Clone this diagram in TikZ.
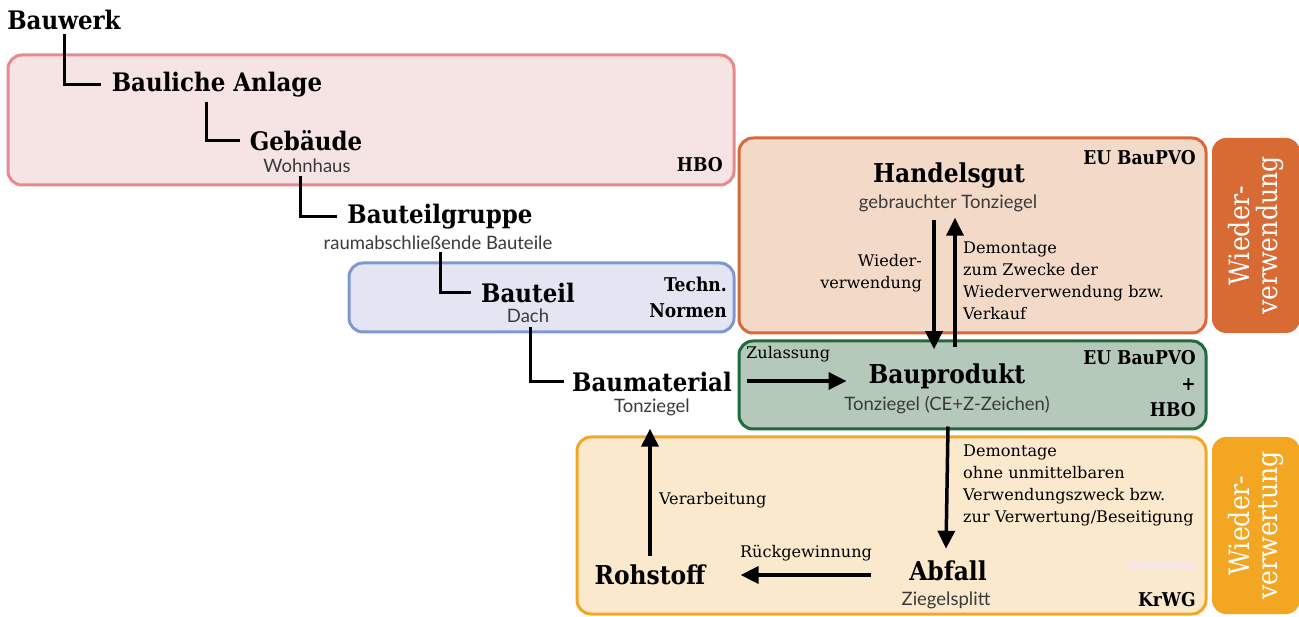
\documentclass[tikz,border=0pt]{standalone}
\usepackage{fontspec}
\setmainfont{DejaVu Serif Condensed}
\newfontfamily\subfont{Lato}
\newfontfamily\notefont[FakeStretch=1.12]{DejaVu Serif Condensed}
\usetikzlibrary{arrows.meta}

\definecolor{hboFill}{HTML}{F6E3E4}
\definecolor{hboLine}{HTML}{E8898B}
\definecolor{normFill}{HTML}{E3E5F3}
\definecolor{normLine}{HTML}{7F98D0}
\definecolor{tradeFill}{HTML}{F3DAC8}
\definecolor{tradeLine}{HTML}{D8693A}
\definecolor{prodFill}{HTML}{B5C9BA}
\definecolor{prodLine}{HTML}{1F6B3C}
\definecolor{wasteFill}{HTML}{FAE9CC}
\definecolor{wasteLine}{HTML}{F2A724}
\definecolor{reuseTab}{HTML}{D86A34}
\definecolor{recycleTab}{HTML}{F2A622}
\definecolor{paleBar}{HTML}{F5E5E3}
\definecolor{subGray}{HTML}{3A3A3A}

\tikzset{
  title/.style={font=\bfseries\fontsize{25.5}{28}\selectfont, inner sep=0pt},
  bigtitle/.style={font=\bfseries\fontsize{26}{28}\selectfont, inner sep=0pt},
  subtext/.style={font=\subfont\fontsize{18.5}{20}\selectfont, text=subGray, inner sep=0pt},
  law/.style={font=\bfseries\fontsize{19}{26}\selectfont, inner sep=0pt, align=right, anchor=east},
  note/.style={font=\notefont\fontsize{16}{22}\selectfont, inner sep=0pt, align=left},
  region/.style={rounded corners=14pt, line width=3pt, minimum width=#1},
  tab/.style={rounded corners=14pt, minimum width=88pt},
  tabtext/.style={font=\fontsize{28}{28}\selectfont, text=white, align=center, rotate=90, inner sep=0pt},
  link/.style={line width=3pt},
  arr/.style={line width=3.5pt, -{Triangle[length=18pt,width=17pt]}}
}

\begin{document}
\begin{tikzpicture}[x=1pt,y=-1pt]
\useasboundingbox (0,0) rectangle (1299,617);

% law regions
\node[region=726pt, minimum height=130pt, draw=hboLine, fill=hboFill] (hbo) at (371,120) {};
\node[region=385pt, minimum height=69pt, draw=normLine, fill=normFill] (norm) at (541.5,297.5) {};
\node[region=467pt, minimum height=195pt, draw=tradeLine, fill=tradeFill] (trade) at (972.5,235.5) {};
\node[region=467pt, minimum height=88pt, draw=prodLine, fill=prodFill] (prod) at (972.5,385) {};
\node[region=629pt, minimum height=177pt, draw=wasteLine, fill=wasteFill] (waste) at (891.5,525.5) {};

% side tabs
\node[tab, minimum height=195pt, fill=reuseTab] (reuse) at (1256,235.5) {};
\node[tabtext] at (reuse.center) {Wieder-\\verwendung};
\node[tab, minimum height=177pt, fill=recycleTab] (recycle) at (1256,525.5) {};
\node[tabtext] at (recycle.center) {Wieder-\\verwertung};

\node[fill=paleBar, minimum width=67pt, minimum height=7pt, inner sep=0pt] (bar) at (1161.5,565.5) {};

% law labels
\node[law] at (723,165) {HBO};
\node[law] at (727,297) {Techn.\\Normen};
\node[law] at (1196,158) {EU BauPVO};
\node[law] at (1196,384) {EU BauPVO\\+\\HBO};
\node[law] at (1196,600) {KrWG};

% hierarchy
\node[title] (bauwerk) at (64,20) {Bauwerk};
\node[title] (anlage) at (217,85) {Bauliche Anlage};
\node[title] (gebaeude) at (306,141) {Gebäude};
\node[subtext] (wohnhaus) at (307,166) {Wohnhaus};
\node[title] (gruppe) at (440,217) {Bauteilgruppe};
\node[subtext] (raum) at (438,243) {raumabschließende Bauteile};
\node[title] (bauteil) at (528,293) {Bauteil};
\node[subtext] (dach) at (528,316) {Dach};
\node[title] (material) at (652,382) {Baumaterial};
\node[subtext] (tonziegel) at (652,407) {Tonziegel};

\draw[link] ([yshift=-4pt]bauwerk.south) |- ([xshift=-11pt]anlage.west);
\draw[link] ([xshift=-11pt,yshift=-4pt]anlage.south) |- ([xshift=-10pt]gebaeude.west);
\draw[link] ([xshift=-7pt,yshift=-3pt]wohnhaus.south) |- ([xshift=-10pt]gruppe.west);
\draw[link] ([xshift=2pt,yshift=-2pt]raum.south) |- ([xshift=-10pt]bauteil.west);
\draw[link] ([xshift=2pt,yshift=-4pt]dach.south) |- ([xshift=-8pt]material.west);

% product life cycle
\node[bigtitle] (handel) at (949,176) {Handelsgut};
\node[subtext] (handelsub) at (948,203) {gebrauchter Tonziegel};
\node[bigtitle] (produkt) at (947,376) {Bauprodukt};
\node[subtext] (produktsub) at (947,405) {Tonziegel (CE+Z-Zeichen)};
\node[bigtitle] (abfall) at (948,571) {Abfall};
\node[subtext] (abfallsub) at (946,600) {Ziegelsplitt};
\node[bigtitle] (rohstoff) at (650,575) {Rohstoff};

\coordinate (zulStart) at (747,381);
\draw[arr] (zulStart) -- ([xshift=-22pt]produkt.west |- zulStart);
\node[note, anchor=south west] at (746,362) {Zulassung};

\draw[arr] ([xshift=-14pt,yshift=-8pt]handelsub.south) -- ([xshift=-13pt,yshift=14pt]produkt.north);
\draw[arr] ([xshift=8pt,yshift=16pt]produkt.north) -- ([xshift=7pt,yshift=-6pt]handelsub.south);
\node[note, align=right, anchor=east] at (922,273) {Wieder-\\verwendung};
\node[note, anchor=west] at (963,281) {Demontage\\zum Zwecke der\\Wiederverwendung bzw.\\Verkauf};

\draw[arr] ([yshift=4pt]prod.south -| abfall.north) -- ([xshift=-2pt,yshift=12pt]abfall.north);
\node[note, anchor=west] at (963,485) {Demontage\\ohne unmittelbaren\\Verwendungszweck bzw.\\zur Verwertung/Beseitigung};

\draw[arr] ([xshift=-38pt]abfall.west |- rohstoff) -- ([xshift=35pt]rohstoff.east);
\node[note] at (806,553) {Rückgewinnung};

\draw[arr] ([yshift=9pt]rohstoff.north) -- ([yshift=-13pt]rohstoff.north |- tonziegel.south);
\node[note, anchor=west] at (659,500) {Verarbeitung};
\end{tikzpicture}
\end{document}
